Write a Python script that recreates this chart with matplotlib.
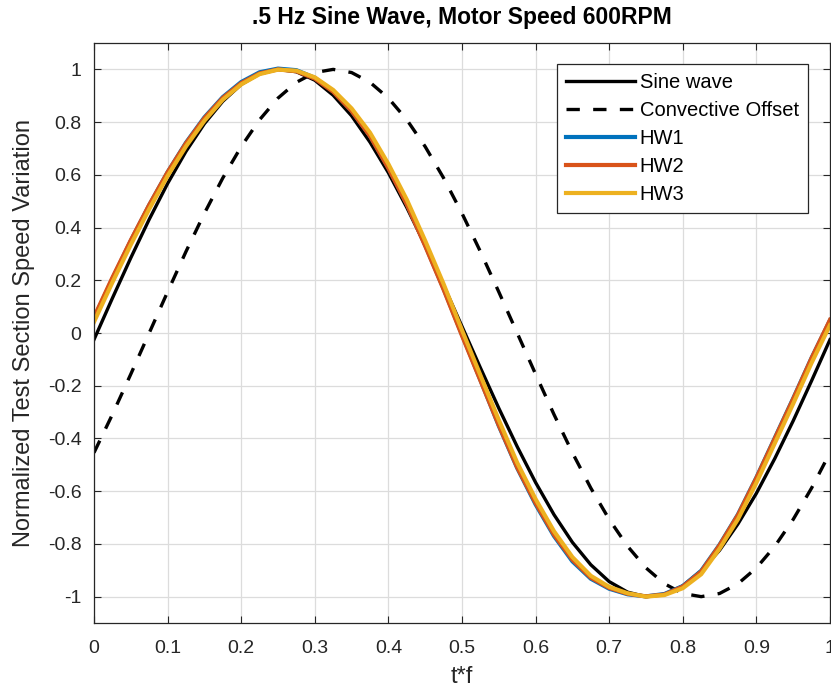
import matplotlib
matplotlib.use("Agg")
import matplotlib.pyplot as plt
import numpy as np

plt.rcParams['font.family'] = ['Liberation Sans', 'DejaVu Sans']

# t*f sample points (read every 0.025)
tf = [0.000, 0.025, 0.050, 0.075, 0.100, 0.125, 0.150, 0.175, 0.200, 0.225,
      0.250, 0.275, 0.300, 0.325, 0.350, 0.375, 0.400, 0.425, 0.450, 0.475,
      0.500, 0.525, 0.550, 0.575, 0.600, 0.625, 0.650, 0.675, 0.700, 0.725,
      0.750, 0.775, 0.800, 0.825, 0.850, 0.875, 0.900, 0.925, 0.950, 0.975,
      1.000]

sine_wave = [-0.025, 0.132, 0.285, 0.431, 0.567, 0.689, 0.794, 0.879, 0.943, 0.983,
             1.000, 0.991, 0.959, 0.902, 0.824, 0.724, 0.608, 0.476, 0.333, 0.181,
             0.025, -0.132, -0.285, -0.431, -0.567, -0.689, -0.794, -0.879, -0.943, -0.983,
             -1.000, -0.991, -0.959, -0.902, -0.824, -0.724, -0.608, -0.476, -0.333, -0.181,
             -0.025]

convective = [-0.454, -0.309, -0.156, 0.000, 0.156, 0.309, 0.454, 0.588, 0.707, 0.809,
              0.891, 0.951, 0.988, 1.000, 0.988, 0.951, 0.891, 0.809, 0.707, 0.588,
              0.454, 0.309, 0.156, 0.000, -0.156, -0.309, -0.454, -0.588, -0.707, -0.809,
              -0.891, -0.951, -0.988, -1.000, -0.988, -0.951, -0.891, -0.809, -0.707, -0.588,
              -0.454]

hw1 = [0.055, 0.206, 0.350, 0.485, 0.610, 0.722, 0.818, 0.895, 0.952, 0.989,
       1.003, 0.997, 0.968, 0.917, 0.843, 0.748, 0.627, 0.490, 0.333, 0.168,
       -0.006, -0.178, -0.352, -0.512, -0.650, -0.770, -0.866, -0.932, -0.970, -0.991,
       -0.999, -0.990, -0.960, -0.902, -0.803, -0.688, -0.548, -0.398, -0.248, -0.094,
       0.048]

hw2 = [0.060, 0.210, 0.352, 0.486, 0.610, 0.720, 0.815, 0.892, 0.948, 0.985,
       1.000, 0.993, 0.965, 0.915, 0.842, 0.747, 0.625, 0.488, 0.330, 0.165,
       -0.010, -0.180, -0.350, -0.510, -0.645, -0.765, -0.860, -0.928, -0.967, -0.989,
       -0.999, -0.992, -0.962, -0.905, -0.805, -0.690, -0.550, -0.400, -0.250, -0.095,
       0.050]

hw3 = [0.042, 0.192, 0.335, 0.470, 0.596, 0.708, 0.805, 0.885, 0.943, 0.982,
       0.999, 0.995, 0.970, 0.922, 0.852, 0.760, 0.641, 0.506, 0.350, 0.186,
       0.011, -0.160, -0.330, -0.492, -0.630, -0.752, -0.850, -0.921, -0.963, -0.987,
       -1.000, -0.994, -0.968, -0.915, -0.818, -0.706, -0.568, -0.418, -0.268, -0.113,
       0.030]

axc = '#262626'

fig = plt.figure(figsize=(8.31, 6.94), dpi=100)
ax = fig.add_axes([0.1131, 0.1023, 0.8857, 0.8357])

ax.plot(tf, sine_wave, color='k', lw=2.4, label='Sine wave')
ax.plot(tf, convective, color='k', lw=2.4, ls=(0, (4.0, 4.0)), label='Convective Offset')
ax.plot(tf, hw1, color='#0072BD', lw=3.0, label='HW1')
ax.plot(tf, hw2, color='#D95319', lw=3.0, label='HW2')
ax.plot(tf, hw3, color='#EDB120', lw=3.0, label='HW3')

ax.set_xlim(0, 1)
ax.set_ylim(-1.1, 1.1)
ax.set_xticks(np.arange(0, 1.01, 0.1))
ax.set_xticklabels(['0', '0.1', '0.2', '0.3', '0.4', '0.5', '0.6', '0.7', '0.8', '0.9', '1'])
ax.set_yticks(np.arange(-1, 1.01, 0.2))
ax.set_yticklabels(['-1', '-0.8', '-0.6', '-0.4', '-0.2', '0', '0.2', '0.4', '0.6', '0.8', '1'])

ax.grid(True, color='#dcdcdc', lw=0.9)
ax.set_axisbelow(True)
ax.tick_params(direction='in', length=5, width=0.8, colors=axc, labelsize=14,
               top=True, right=True)
ax.tick_params(axis='x', pad=12)
ax.tick_params(axis='y', pad=9)
for s in ax.spines.values():
    s.set_color(axc)
    s.set_linewidth(0.9)

ax.set_title('.5 Hz Sine Wave, Motor Speed 600RPM', fontsize=16.5, fontweight='bold', pad=14)
ax.set_xlabel('t*f', fontsize=17, color=axc, labelpad=7)
ax.set_ylabel('Normalized Test Section Speed Variation', fontsize=17, color=axc, labelpad=9)

leg = ax.legend(loc='upper right', bbox_to_anchor=(0.970, 0.964), fontsize=14.5,
                handlelength=3.4, fancybox=False, framealpha=1, edgecolor=axc,
                borderpad=0.45, labelspacing=0.45, handletextpad=0.25, borderaxespad=0)
leg.get_frame().set_linewidth(0.9)

fig.savefig('out.png', dpi=100)
